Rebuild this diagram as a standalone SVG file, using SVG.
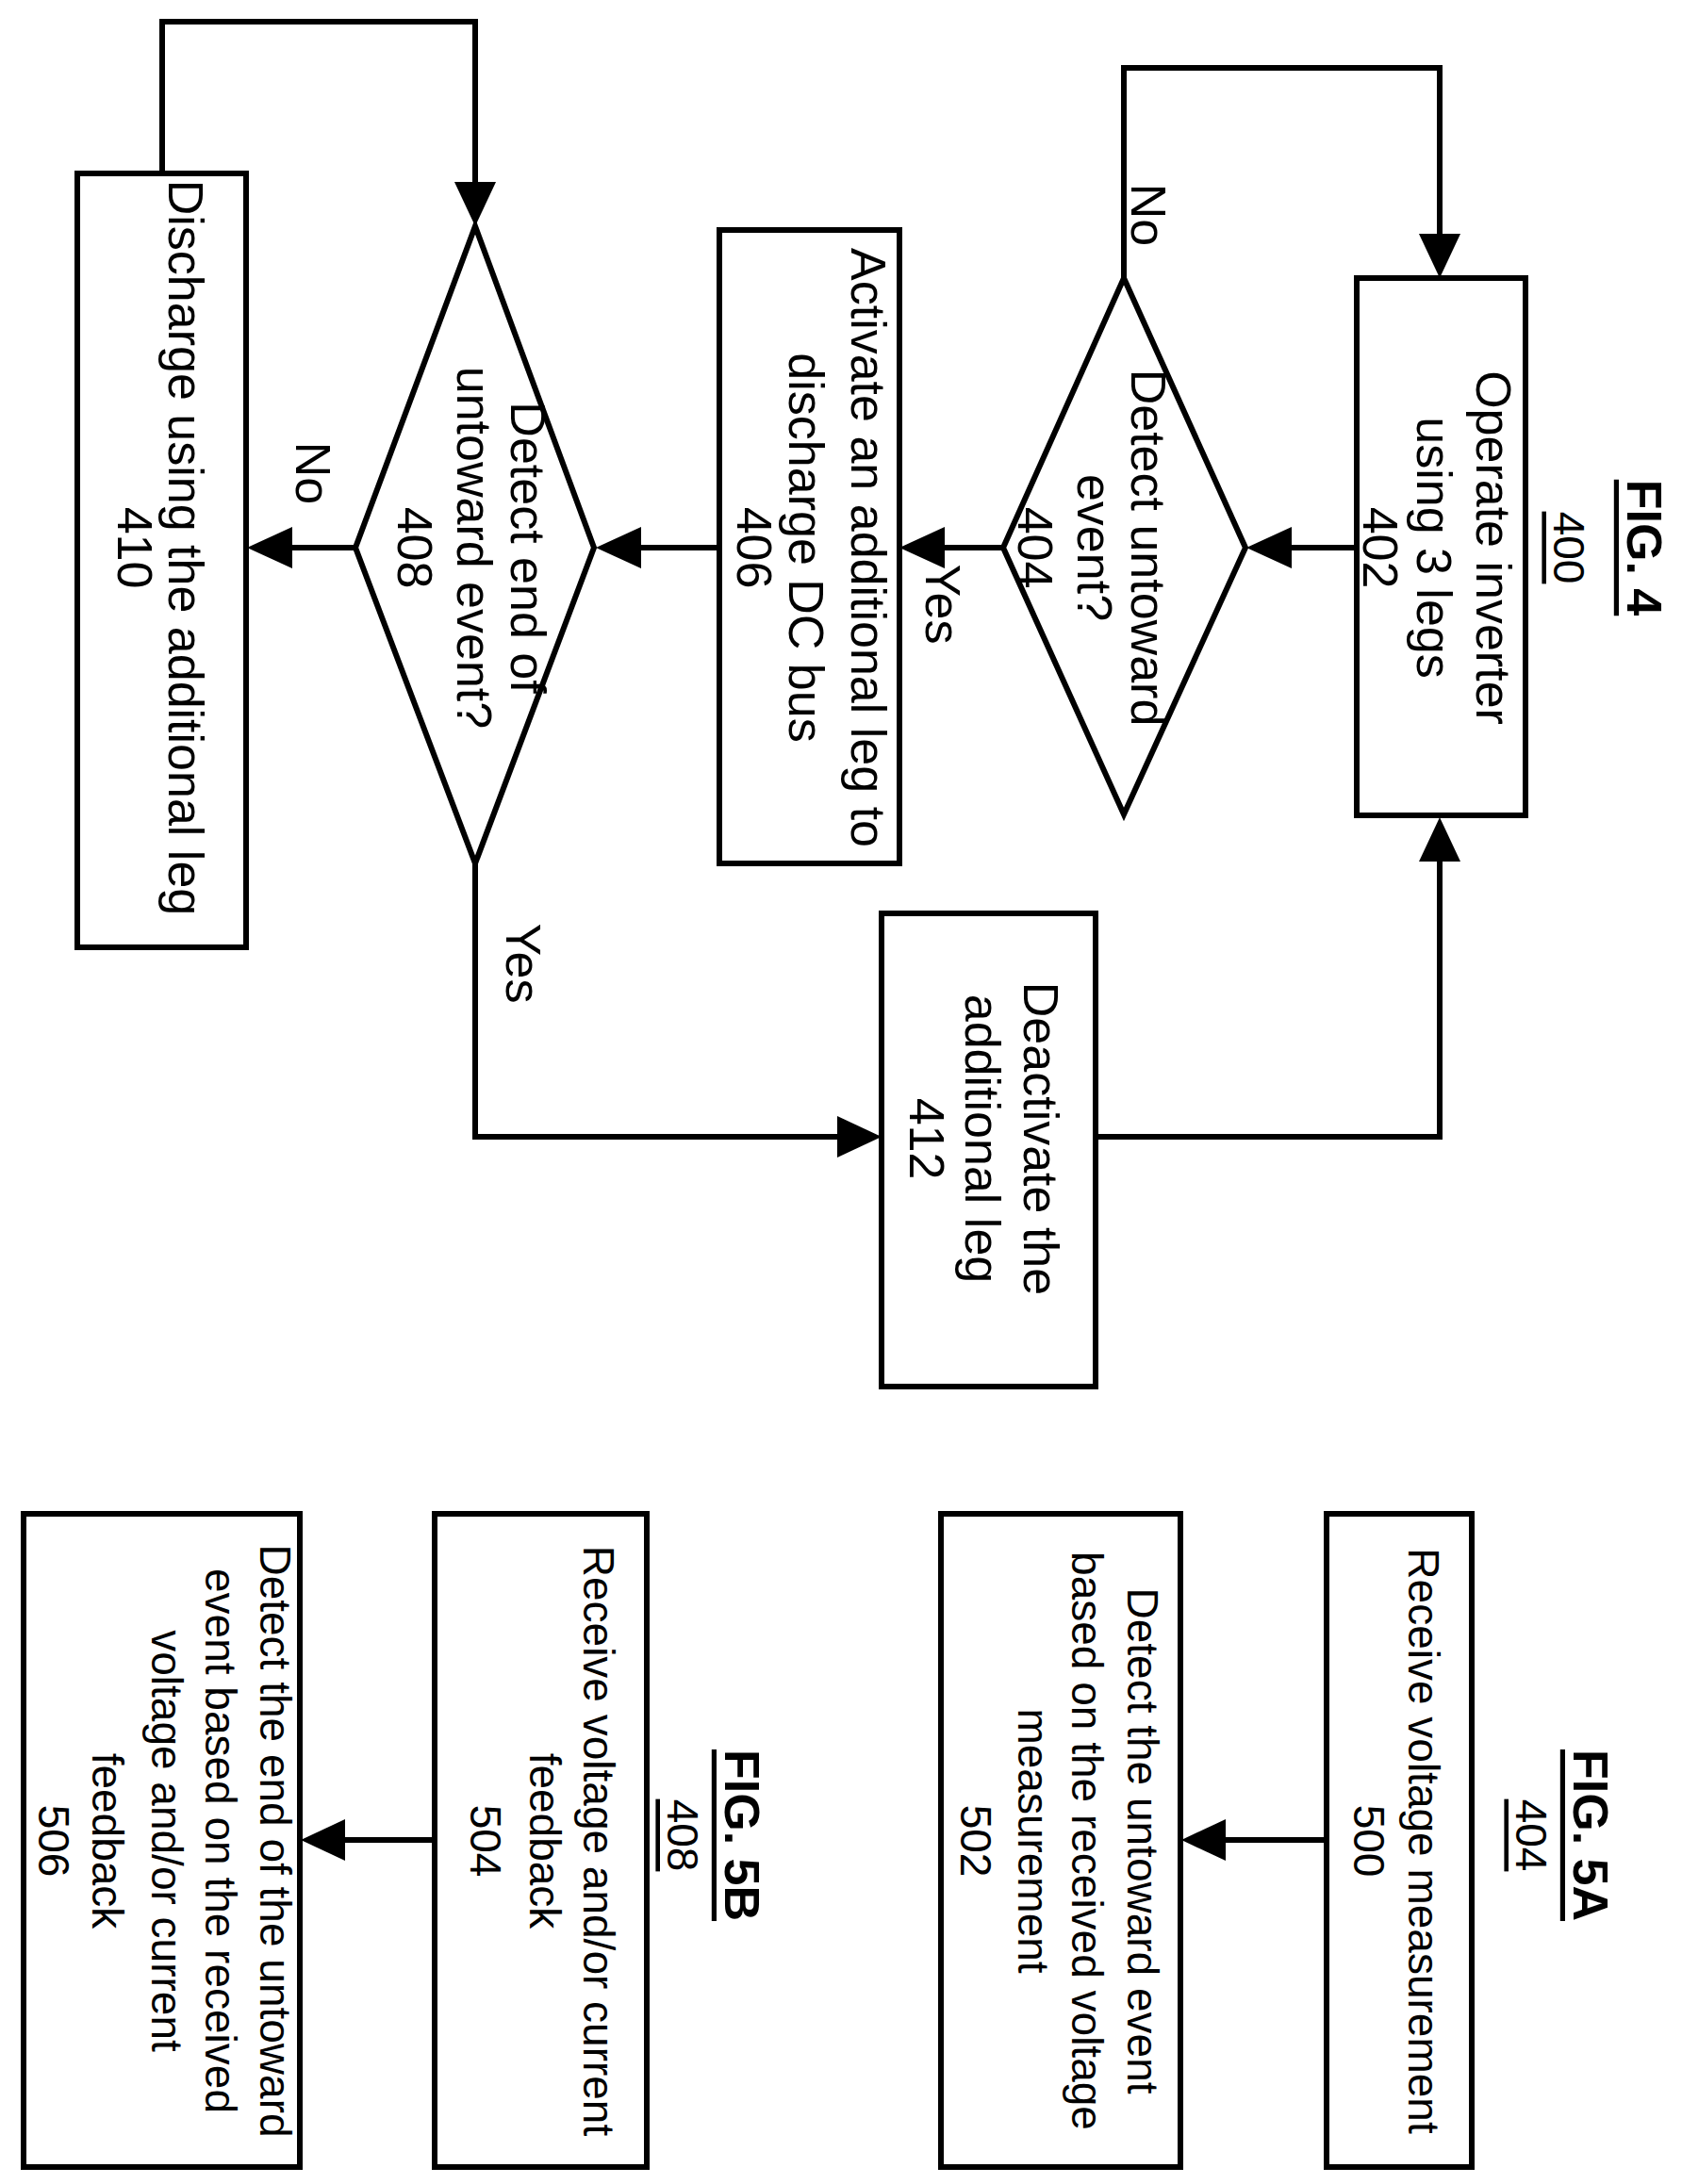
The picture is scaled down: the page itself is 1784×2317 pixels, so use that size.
<svg xmlns="http://www.w3.org/2000/svg" width="1784" height="2317" viewBox="0 0 1784 2317">
<defs>
<style>
.b{fill:#fff;stroke:#000;stroke-width:6}
.l{fill:none;stroke:#000;stroke-width:6}
text{font-family:"Liberation Sans",Arial,sans-serif;font-size:52px;text-anchor:middle;dominant-baseline:central;fill:#000}
.s{font-size:46px}
.t{font-weight:bold;text-decoration:underline}
.u{text-decoration:underline;font-size:46px}
</style>
</defs>
<rect width="1784" height="2317" fill="#fff"/>
<g id="connectors">
<line class="l" x1="1439" y1="581" x2="1368" y2="581"/>
<path d="M1370,559L1370,603L1322,581z"/>
<polyline class="l" points="1192,295 1192,72 1527,72 1527,250"/>
<path d="M1505,248L1549,248L1527,295z"/>
<line class="l" x1="1064" y1="581" x2="1000" y2="581"/>
<path d="M1002,559L1002,603L954,581z"/>
<line class="l" x1="763" y1="581" x2="678" y2="581"/>
<path d="M680,559L680,603L632,581z"/>
<line class="l" x1="377" y1="581" x2="308" y2="581"/>
<path d="M310,559L310,603L262,581z"/>
<polyline class="l" points="172,184 172,23 504,23 504,195"/>
<path d="M482,193L526,193L504,240z"/>
<polyline class="l" points="504,916 504,1206 890,1206"/>
<path d="M888,1184L888,1228L935,1206z"/>
<polyline class="l" points="1162,1206 1527,1206 1527,912"/>
<path d="M1505,914L1549,914L1527,867z"/>
<line class="l" x1="1407" y1="1952" x2="1298" y2="1952"/>
<path d="M1300,1930L1300,1974L1253,1952z"/>
<line class="l" x1="461" y1="1952" x2="364" y2="1952"/>
<path d="M366,1930L366,1974L319,1952z"/>
<text transform="translate(1218,228) rotate(90)">No</text>
<text transform="translate(1000,641) rotate(90)">Yes</text>
<text transform="translate(332,502) rotate(90)">No</text>
<text transform="translate(555,1022) rotate(90)">Yes</text>
</g>
<g id="fig4title" transform="translate(1700,581) rotate(90)">
<text class="t" y="-44">FIG. 4</text>
<text class="u" y="36">400</text>
</g>
<g id="n402"><rect class="b" x="1439" y="295" width="179" height="570"/>
<g transform="translate(1521,581) rotate(90)"><text y="-63">Operate inverter</text><text y="0">using 3 legs</text><text y="57">402</text></g></g>
<g id="n404"><polygon class="b" points="1192,295 1321,581 1192,864 1064,581"/>
<g transform="translate(1161,581) rotate(90)"><text y="-57">Detect untoward</text><text y="0">event?</text><text y="63">404</text></g></g>
<g id="n406"><rect class="b" x="763" y="244" width="191" height="672"/>
<g transform="translate(857,581) rotate(90)"><text y="-64">Activate an additional leg to</text><text y="2">discharge DC bus</text><text y="57">406</text></g></g>
<g id="n408"><polygon class="b" points="504,240 630,581 504,916 377,581"/>
<g transform="translate(503,581) rotate(90)"><text y="-57">Detect end of</text><text y="0">untoward event?</text><text y="63">408</text></g></g>
<g id="n410"><rect class="b" x="82" y="184" width="179" height="821"/>
<g transform="translate(170,581) rotate(90)"><text y="-27">Discharge using the additional leg</text><text y="27">410</text></g></g>
<g id="n412"><rect class="b" x="935" y="969" width="227" height="502"/>
<g transform="translate(1044,1208) rotate(90)"><text y="-60">Deactivate the</text><text y="2">additional leg</text><text y="61">412</text></g></g>
<g id="fig5a" transform="translate(1655,1947) rotate(90)">
<text class="t" y="-32">FIG. 5A</text><text class="u" y="31">404</text></g>
<g id="n500"><rect class="b" x="1407" y="1606" width="154" height="693"/>
<g transform="translate(1481,1953) rotate(90)"><text class="s" y="-29">Receive voltage measurement</text><text class="s" y="29">500</text></g></g>
<g id="n502"><rect class="b" x="998" y="1606" width="254" height="693"/>
<g transform="translate(1124,1953) rotate(90)"><text class="s" y="-88">Detect the untoward event</text><text class="s" y="-29">based on the received voltage</text><text class="s" y="28">measurement</text><text class="s" y="89">502</text></g></g>
<g id="fig5b" transform="translate(755,1947) rotate(90)">
<text class="t" y="-32">FIG. 5B</text><text class="u" y="31">408</text></g>
<g id="n504"><rect class="b" x="461" y="1606" width="225" height="693"/>
<g transform="translate(576,1953) rotate(90)"><text class="s" y="-59">Receive voltage and/or current</text><text class="s" y="-2">feedback</text><text class="s" y="61">504</text></g></g>
<g id="n506"><rect class="b" x="25" y="1606" width="293" height="693"/>
<g transform="translate(175,1953) rotate(90)"><text class="s" y="-117">Detect the end of the untoward</text><text class="s" y="-59">event based on the received</text><text class="s" y="-2">voltage and/or current</text><text class="s" y="61">feedback</text><text class="s" y="118">506</text></g></g>
</svg>
